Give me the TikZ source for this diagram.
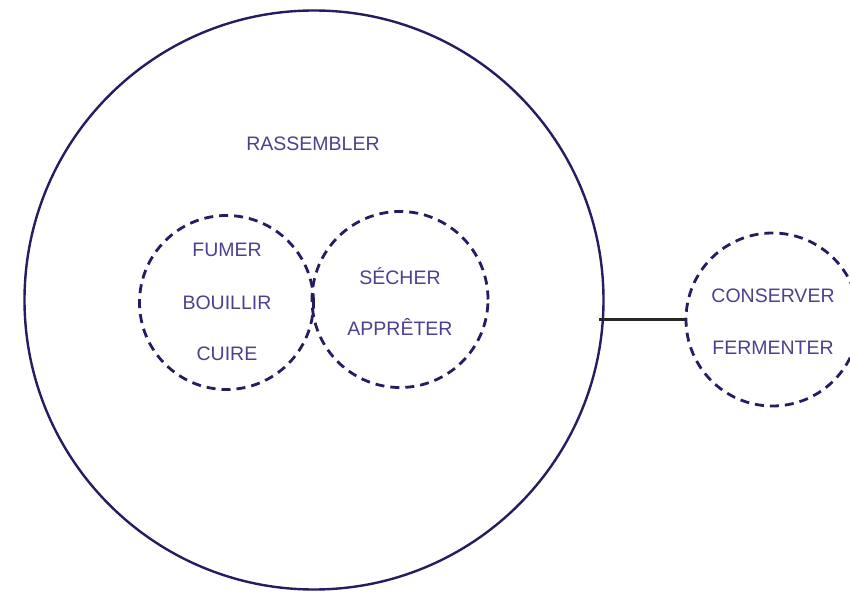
\documentclass[tikz,border=0pt]{standalone}
\usepackage{fontspec}
\setmainfont{Liberation Sans}
\usepackage{tikz}

\definecolor{ring}{HTML}{261C62}
\definecolor{word}{HTML}{4A4190}

\begin{document}
\begin{tikzpicture}[x=1pt, y=1pt]
    \tikzstyle{big} = [circle, draw=ring, line width=2.4pt, inner sep=0pt, minimum size=579pt]
    \tikzstyle{pot} = [circle, draw=ring, line width=2.8pt, dash pattern=on 9pt off 6pt, inner sep=0pt]
    \tikzstyle{lbl} = [text=word, anchor=base, inner sep=0pt, font=\fontsize{19.5}{23}\selectfont]
    \tikzstyle{link} = [draw=black!85, line width=2.2pt]

    \useasboundingbox (0, 0) rectangle (850, 592);

    \node[big] (rass) at (314, 292) {};
    \node[pot, minimum size=174pt] (cuire) at (226.5, 289.5) {};
    \node[pot, minimum size=176pt] (secher) at (400, 292.5) {};
    \node[pot, minimum size=173pt] (conserv) at (772.5, 272.5) {};

    \foreach \txt/\x/\y [count=\i] in {RASSEMBLER/313/441, FUMER/227/335, BOUILLIR/227/282,
        CUIRE/227/232, SÉCHER/400/307, APPRÊTER/400/257, CONSERVER/773/289, FERMENTER/773/238}
    \node[lbl] (t\i) at (\x, \y) {\txt};

    \draw[link] (conserv.west) -- ([xshift=-6pt]conserv.west -| rass.east);
\end{tikzpicture}
\end{document}
